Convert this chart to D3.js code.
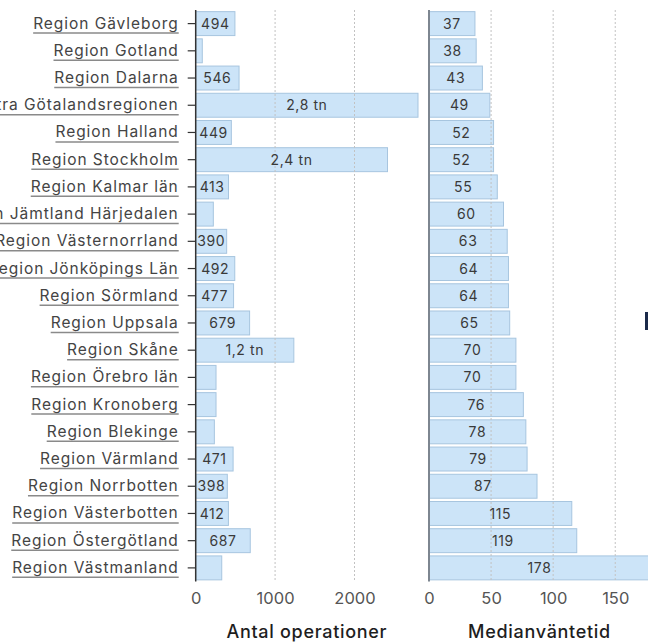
<!DOCTYPE html>
<html><head><meta charset="utf-8">
<script src="https://cdn.jsdelivr.net/npm/d3@7"></script>
<style>
html,body{margin:0;padding:0;background:#fff;overflow:hidden;}
svg{display:block;font-family:Inter,"Noto Sans",sans-serif;}
</style></head>
<body><svg id="c" width="648" height="644"></svg>
<script>
const regions = ["Region Gävleborg","Region Gotland","Region Dalarna","Västra Götalandsregionen","Region Halland","Region Stockholm","Region Kalmar län","Region Jämtland Härjedalen","Region Västernorrland","Region Jönköpings Län","Region Sörmland","Region Uppsala","Region Skåne","Region Örebro län","Region Kronoberg","Region Blekinge","Region Värmland","Region Norrbotten","Region Västerbotten","Region Östergötland","Region Västmanland"];
const operations = [494,83,546,2800,449,2416,413,222,390,492,477,679,1236,256,256,235,471,398,412,687,328];
const operationLabels = ["494","","546","2,8 tn","449","2,4 tn","413","","390","492","477","679","1,2 tn","","","","471","398","412","687",""];
const waitTimes = [37,38,43,49,52,52,55,60,63,64,64,65,70,70,76,78,79,87,115,119,178];
const opTicks = [0,1000,2000];
const waitTicks = [0,50,100,150];
const opTitle = "Antal operationer";
const waitTitle = "Medianväntetid";

const svg = d3.select("#c");
const yTop = 10, yBottom = 581.5;
const y = d3.scaleBand().domain(regions).range([yTop, yBottom]).paddingInner(0.12).paddingOuter(0.06);
const xL = d3.scaleLinear().domain([0, d3.max(operations)]).range([195.7, 418]);
const xR = d3.scaleLinear().domain([0, d3.max(waitTimes)]).range([429, 650]);

const barFill = "#cce4f8", barStroke = "#a7c5df";

function panel(x, values, labels, ticks, title) {
  const g = svg.append("g");
  g.selectAll("rect.bar").data(values).join("rect")
    .attr("class","bar")
    .attr("x", x(0)).attr("y", (d,i)=>y(regions[i]))
    .attr("width", d=>x(d)-x(0)).attr("height", y.bandwidth())
    .attr("fill", barFill).attr("stroke", barStroke).attr("stroke-width",1);
  g.selectAll("line.grid").data(ticks.filter(t=>t>0)).join("line")
    .attr("class","grid")
    .attr("x1", d=>x(d)).attr("x2", d=>x(d))
    .attr("y1", yTop).attr("y2", yBottom)
    .attr("stroke", "#c2c2c2").attr("stroke-width",1).attr("stroke-dasharray","2,2");
  g.selectAll("text.val").data(values).join("text")
    .attr("class","val")
    .attr("x", d=>(x(0)+x(d))/2)
    .attr("y", (d,i)=>y(regions[i]) + y.bandwidth()/2)
    .attr("dy","0.36em").attr("text-anchor","middle")
    .attr("font-size", 14).attr("letter-spacing", 0.6).attr("fill","#3a3a3a")
    .text((d,i)=>labels[i]);
  const ax = g.append("g").attr("transform", `translate(0,${yBottom})`)
    .call(d3.axisBottom(x).tickValues(ticks).tickSize(0).tickPadding(11).tickFormat(d3.format("d")));
  ax.select(".domain").remove();
  ax.selectAll("text").attr("font-size", 16.5).attr("fill", "#555").attr("font-family","Inter,sans-serif");
  g.append("text")
    .attr("x", (x.range()[0] + x.range()[1]) / 2)
    .attr("y", 638)
    .attr("text-anchor","middle").attr("font-size", 18).attr("font-weight", 500)
    .attr("letter-spacing", 0.7).attr("fill","#1e1e1e")
    .text(title);
}

panel(xL, operations, operationLabels, opTicks, opTitle);
panel(xR, waitTimes, waitTimes.map(String), waitTicks, waitTitle);

const yAx = svg.append("g").attr("transform", `translate(${xL(0)},0)`)
  .call(d3.axisLeft(y).tickSize(8).tickPadding(9).tickSizeOuter(0));
yAx.select(".domain").attr("stroke","#333").attr("stroke-width",1.5).attr("d", `M0,${yTop}V${yBottom}`);
yAx.selectAll(".tick line").attr("stroke","#333").attr("stroke-width",1.2);
yAx.selectAll(".tick text").attr("font-size", 15.5).attr("letter-spacing", 0.95).attr("fill","#444").attr("font-family","Inter,sans-serif");
yAx.selectAll(".tick").each(function(){
  const t = d3.select(this).select("text");
  const bb = t.node().getBBox();
  d3.select(this).append("line")
    .attr("x1", bb.x).attr("x2", bb.x + bb.width)
    .attr("y1", bb.y + bb.height + 0.5).attr("y2", bb.y + bb.height + 0.5)
    .attr("stroke","#8a8a8a").attr("stroke-width",1.5);
});

svg.append("line").attr("x1", xR(0)).attr("x2", xR(0)).attr("y1", yTop).attr("y2", yBottom)
  .attr("stroke","#7d8690").attr("stroke-width",2);

// clipped dark mark at the right edge (part of an element outside the view)
svg.append("rect").attr("x", 645).attr("y", y(regions[11]) + 1).attr("width", 4).attr("height", 18)
  .attr("fill","#1b2a4a");
</script></body></html>
